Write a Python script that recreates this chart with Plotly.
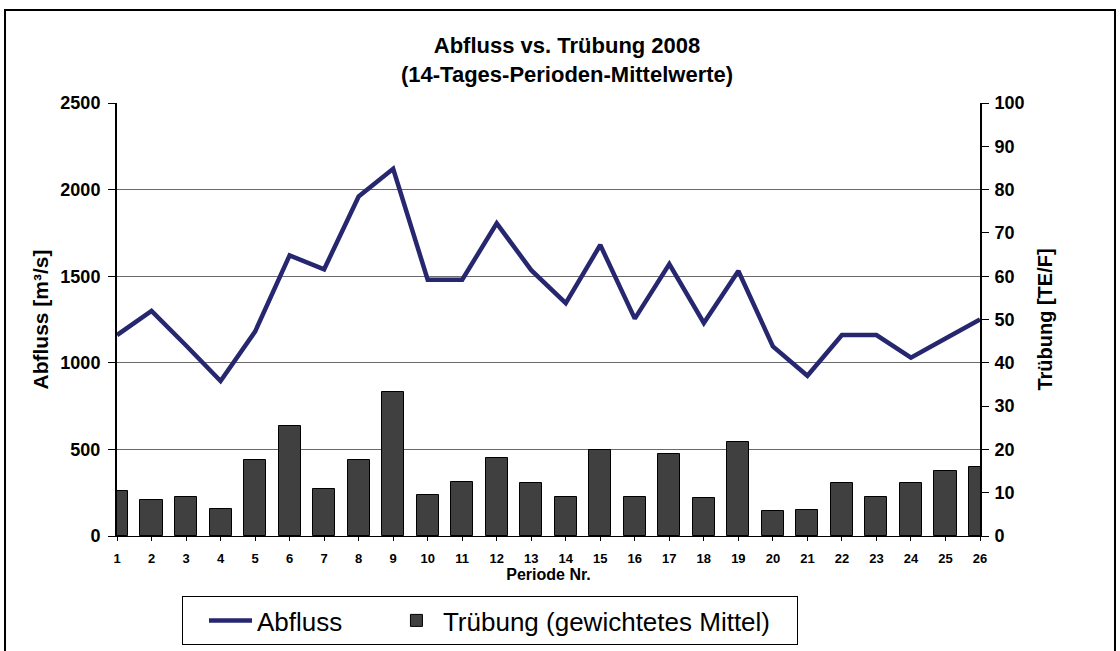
import plotly.graph_objects as go

perioden = list(range(1, 27))
abfluss = [1160, 1300, 1100, 895, 1180, 1620, 1540, 1960, 2120, 1480, 1480, 1805, 1535,
           1345, 1680, 1255, 1570, 1230, 1530, 1095, 925, 1160, 1160, 1030, 1140, 1250]
truebung = [10.4, 8.4, 8.9, 6.2, 17.6, 25.3, 10.9, 17.6, 33.3, 9.4, 12.5, 18.0, 12.2,
            9.0, 19.8, 9.1, 19.0, 8.7, 21.6, 5.8, 6.1, 12.2, 9.1, 12.2, 15.1, 16.0]
tick_labels = [str(p) for p in perioden]

W, H = 1120, 651
L, R, T, B = 117, 980, 103, 536
pw, ph = R - L, B - T

def px(x):
    return (x - L) / pw

def py(y):
    return (B - y) / ph

FONT = "Liberation Sans, Arial, sans-serif"
NB = "\u00a0"

fig = go.Figure()
fig.add_trace(go.Bar(
    x=perioden, y=truebung, yaxis="y2", name="Trübung (gewichtetes Mittel)" + NB * 3,
    width=0.64, marker=dict(color="#404040", line=dict(color="#000000", width=1)),
))
fig.add_trace(go.Scatter(
    x=perioden, y=abfluss, mode="lines", name="Abfluss" + NB * 3,
    line=dict(color="#272770", width=4.5),
))

fig.update_layout(
    width=W, height=H,
    margin=dict(l=L, r=W - R, t=T, b=H - B, autoexpand=False),
    paper_bgcolor="white", plot_bgcolor="white",
    font=dict(family=FONT, color="black"),
    showlegend=True,
    legend=dict(
        orientation="h", x=px(182), y=py(596), xanchor="left", yanchor="top",
        bordercolor="black", borderwidth=1, font=dict(size=26, family=FONT),
        traceorder="reversed", itemwidth=43, indentation=21,
    ),
    xaxis=dict(
        range=[1, 26], tickmode="array", tickvals=perioden, ticktext=tick_labels,
        showgrid=False, zeroline=False, showline=True, linecolor="black", linewidth=1,
        ticks="outside", ticklen=4, tickcolor="black", ticklabelstandoff=6,
        tickfont=dict(size=13, family=FONT, weight="bold"),
        title=dict(text="<b>Periode Nr.</b>", font=dict(size=16, family=FONT), standoff=2),
    ),
    yaxis=dict(
        range=[0, 2500], dtick=500, showgrid=True, gridcolor="#6a6a6a", gridwidth=1,
        zeroline=False, showline=True, linecolor="black", linewidth=2,
        ticks="outside", ticklen=7, tickcolor="black", ticklabelstandoff=4,
        tickfont=dict(size=18, family=FONT, weight="bold"),
        title=dict(text="<b>Abfluss [m³/s]</b>", font=dict(size=21, family=FONT), standoff=6),
    ),
    yaxis2=dict(
        range=[0, 100], dtick=10, overlaying="y", side="right", showgrid=False,
        zeroline=False, showline=True, linecolor="black", linewidth=2,
        ticks="outside", ticklen=7, tickcolor="black", ticklabelstandoff=2,
        tickfont=dict(size=18, family=FONT, weight="bold"),
        title=dict(text="<b>Trübung [TE/F]</b>", font=dict(size=20, family=FONT), standoff=14),
    ),
    bargap=0,
)

fig.add_annotation(
    text="<b>Abfluss vs. Trübung 2008<br>(14-Tages-Perioden-Mittelwerte)</b>",
    xref="paper", yref="paper", x=px(567), y=py(60), xanchor="center", yanchor="middle",
    showarrow=False, font=dict(size=22, family=FONT), align="center",
)

fig.add_shape(
    type="rect", xref="paper", yref="paper",
    x0=px(5), x1=px(1115), y0=py(700), y1=py(10),
    line=dict(color="black", width=2), fillcolor="rgba(0,0,0,0)", layer="below",
)

fig.write_html(
    "out.html",
    config={"displayModeBar": False},
    post_script="document.body.style.margin='0';document.body.style.overflow='hidden';",
)
